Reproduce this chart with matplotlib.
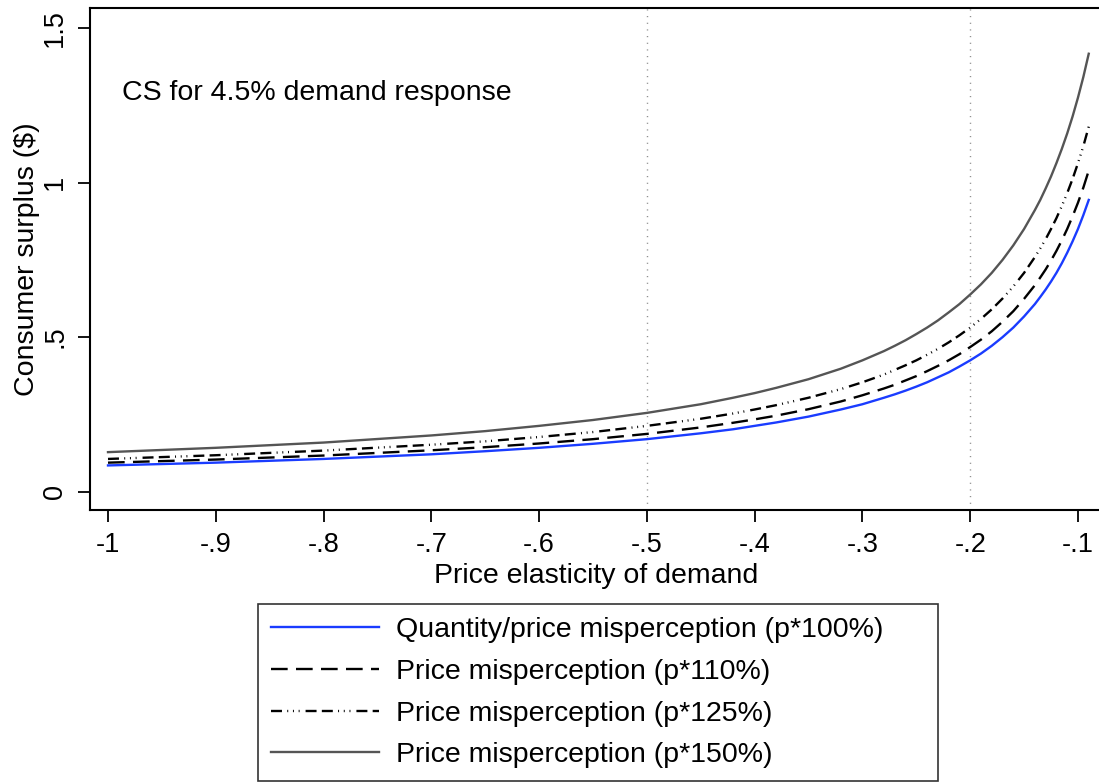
import matplotlib
matplotlib.use("Agg")
import matplotlib.pyplot as plt

plt.rcParams['font.family'] = ['Liberation Sans', 'DejaVu Sans']
plt.rcParams['lines.scale_dashes'] = False

# elasticity grid and consumer surplus by misperception scenario
elasticity = [-1.0, -0.9, -0.8, -0.7, -0.65, -0.6, -0.55, -0.5, -0.45, -0.42,
              -0.4, -0.38, -0.35, -0.32, -0.3, -0.28, -0.27, -0.26, -0.25, -0.24,
              -0.23, -0.22, -0.21, -0.2, -0.19, -0.18, -0.17, -0.16, -0.15, -0.14,
              -0.135, -0.13, -0.125, -0.12, -0.115, -0.11, -0.105, -0.10, -0.095, -0.09]
cs_100 = [0.085, 0.094, 0.106, 0.121, 0.131, 0.142, 0.155, 0.170, 0.189, 0.202,
          0.213, 0.224, 0.243, 0.266, 0.283, 0.304, 0.315, 0.327, 0.340, 0.354,
          0.370, 0.386, 0.405, 0.425, 0.447, 0.472, 0.500, 0.531, 0.567, 0.607,
          0.630, 0.654, 0.680, 0.708, 0.739, 0.773, 0.810, 0.850, 0.895, 0.944]
cs_110 = [0.094, 0.104, 0.117, 0.134, 0.144, 0.156, 0.170, 0.187, 0.208, 0.223,
          0.234, 0.246, 0.267, 0.292, 0.312, 0.334, 0.346, 0.360, 0.374, 0.390,
          0.407, 0.425, 0.445, 0.468, 0.492, 0.519, 0.550, 0.584, 0.624, 0.668,
          0.693, 0.719, 0.748, 0.779, 0.813, 0.850, 0.891, 0.935, 0.984, 1.039]
cs_125 = [0.106, 0.118, 0.133, 0.152, 0.163, 0.177, 0.193, 0.213, 0.236, 0.253,
          0.266, 0.280, 0.304, 0.332, 0.354, 0.379, 0.394, 0.409, 0.425, 0.443,
          0.462, 0.483, 0.506, 0.531, 0.559, 0.590, 0.625, 0.664, 0.708, 0.759,
          0.787, 0.817, 0.850, 0.885, 0.924, 0.966, 1.012, 1.063, 1.118, 1.181]
cs_150 = [0.128, 0.142, 0.159, 0.182, 0.196, 0.213, 0.232, 0.255, 0.283, 0.304,
          0.319, 0.336, 0.364, 0.398, 0.425, 0.455, 0.472, 0.490, 0.510, 0.531,
          0.554, 0.580, 0.607, 0.638, 0.671, 0.708, 0.750, 0.797, 0.850, 0.911,
          0.944, 0.981, 1.020, 1.063, 1.109, 1.159, 1.214, 1.275, 1.342, 1.417]

labels = ["Quantity/price misperception (p*100%)",
          "Price misperception (p*110%)",
          "Price misperception (p*125%)",
          "Price misperception (p*150%)"]
ref_lines = [-0.5, -0.2]
xticks = [-1, -0.9, -0.8, -0.7, -0.6, -0.5, -0.4, -0.3, -0.2, -0.1]
xticklabels = ["-1", "-.9", "-.8", "-.7", "-.6", "-.5", "-.4", "-.3", "-.2", "-.1"]
yticks = [0, 0.5, 1, 1.5]
yticklabels = ["0", ".5", "1", "1.5"]

fig = plt.figure(figsize=(10.99, 7.84), dpi=100)
ax = fig.add_axes([90 / 1099, 1 - 510 / 784, 1012 / 1099, 502 / 784])

for xv in ref_lines:
    ax.axvline(xv, color="#8a8a8a", lw=1.0, linestyle=(0, (0.8, 4.0)), zorder=1)

ax.plot(elasticity, cs_100, color="#1a3cff", lw=1.7, label=labels[0], zorder=3)
ax.plot(elasticity, cs_110, color="black", lw=1.7, linestyle=(0, (12, 6)),
        label=labels[1], zorder=3)
ax.plot(elasticity, cs_125, color="black", lw=1.7,
        linestyle=(0, (7.9, 3.8, 0.7, 3.4, 0.7, 3.4, 0.7, 4.3, 7.9, 3.8)),
        label=labels[2], zorder=3)
ax.plot(elasticity, cs_150, color="#555555", lw=1.7, label=labels[3], zorder=3)

ax.text(-0.987, 1.29, "CS for 4.5% demand response", fontsize=20.5,
        ha="left", va="center")

ax.set_xlim(-1.0167, -0.0777)
ax.set_ylim(-0.0592, 1.565)
ax.set_xticks(xticks)
ax.set_xticklabels(xticklabels)
ax.set_yticks(yticks)
ax.set_yticklabels(yticklabels, rotation=90, va="center")
ax.tick_params(direction="out", length=8.6, width=1.3, labelsize=19.5, pad=7)

for side in ["left", "bottom", "top"]:
    ax.spines[side].set_linewidth(1.5)
ax.spines["right"].set_visible(False)

ax.set_xlabel("Price elasticity of demand", fontsize=20.5)
ax.xaxis.set_label_coords(0.5, -0.105)
ax.set_ylabel("Consumer surplus ($)", fontsize=20.5, va="center")
ax.yaxis.set_label_coords(-0.0623, 0.5)

leg = fig.legend(loc="upper left",
                 bbox_to_anchor=(258 / 1099, 1 - 605 / 784, 680 / 1099, 0.001),
                 mode="expand", ncol=1, fontsize=20.5, frameon=True,
                 fancybox=False, edgecolor="black", handlelength=3.8,
                 handletextpad=0.6, borderpad=0.45, labelspacing=0.555,
                 borderaxespad=0)
leg.get_frame().set_linewidth(1.2)

fig.savefig("out.png", dpi=100)
